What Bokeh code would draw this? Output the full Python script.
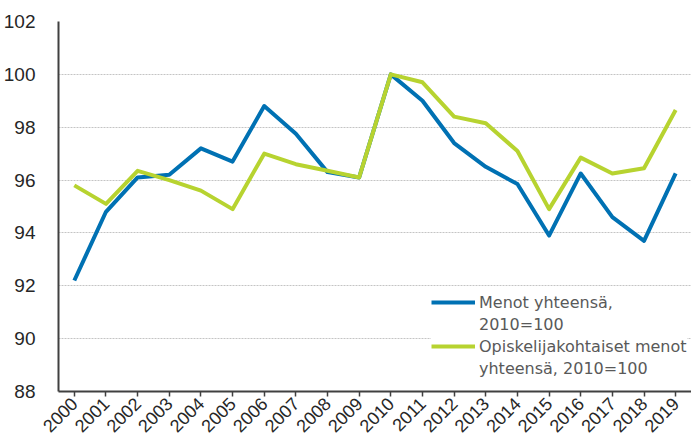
from bokeh.plotting import figure
from bokeh.models import FixedTicker, Legend, LegendItem, ColumnDataSource
from bokeh.embed import file_html
from bokeh.resources import INLINE
import math

years = [str(y) for y in range(2000, 2020)]
menot = [92.2, 94.8, 96.1, 96.2, 97.2, 96.7, 98.8, 97.75, 96.3, 96.1,
         100.0, 99.0, 97.4, 96.5, 95.85, 93.9, 96.25, 94.6, 93.7, 96.25]
opisk = [95.8, 95.1, 96.35, 96.0, 95.6, 94.9, 97.0, 96.6, 96.35, 96.1,
         100.0, 99.7, 98.4, 98.15, 97.1, 94.9, 96.85, 96.25, 96.45, 98.65]
y_ticks = [88, 90, 92, 94, 96, 98, 100, 102]
label1 = ["Menot yhteensä,", "2010=100"]
label2 = ["Opiskelijakohtaiset menot", "yhteensä, 2010=100"]

BLUE = "#0071B3"
GREEN = "#B7D330"

src = ColumnDataSource(dict(year=years, menot=menot, opisk=opisk))

p = figure(width=691, height=445, x_range=years, y_range=(88, 102),
           output_backend="svg", toolbar_location=None,
           min_border_left=55, min_border_right=0, min_border_top=21,
           min_border_bottom=54)
p.outline_line_color = None

r1 = p.line("year", "menot", source=src, line_color=BLUE, line_width=4,
            line_join="round")
r2 = p.line("year", "opisk", source=src, line_color=GREEN, line_width=4,
            line_join="round")
dummy = p.line(x=[], y=[], line_alpha=0)

p.yaxis.ticker = FixedTicker(ticks=y_ticks)
p.ygrid.ticker = FixedTicker(ticks=y_ticks)
p.ygrid.grid_line_color = "#c4c4c4"
p.ygrid.grid_line_dash = "2 1"
p.ygrid.grid_line_width = 1
p.xgrid.grid_line_color = None

for ax in (p.xaxis, p.yaxis):
    ax.axis_line_color = "#404040"
    ax.axis_line_width = 2
    ax.major_label_text_font = "Liberation Sans"
    ax.major_label_text_color = "#262626"
    ax.minor_tick_line_color = None

p.yaxis.major_tick_line_color = None
p.yaxis.major_label_text_font_size = "19px"
p.yaxis.major_label_standoff = 17
p.xaxis.major_tick_line_color = "#404040"
p.xaxis.major_tick_line_width = 1.5
p.xaxis.major_tick_out = 5
p.xaxis.major_tick_in = 0
p.xaxis.major_label_text_font_size = "18px"
p.xaxis.major_label_orientation = math.pi / 4
p.xaxis.major_label_standoff = 4

items = [
    LegendItem(label=label1[0], renderers=[r1]),
    LegendItem(label=label1[1], renderers=[dummy]),
    LegendItem(label=label2[0], renderers=[r2]),
    LegendItem(label=label2[1], renderers=[dummy]),
]
legend = Legend(items=items, location=(373, 12),
                background_fill_color="white", background_fill_alpha=1,
                border_line_color=None,
                label_text_font="DejaVu Sans", label_text_font_size="16px",
                label_text_color="#595959",
                glyph_width=44, glyph_height=22, label_height=22,
                label_standoff=4, spacing=0, padding=3, margin=0)
p.add_layout(legend, "center")

open("out.html", "w").write(file_html(p, INLINE))
